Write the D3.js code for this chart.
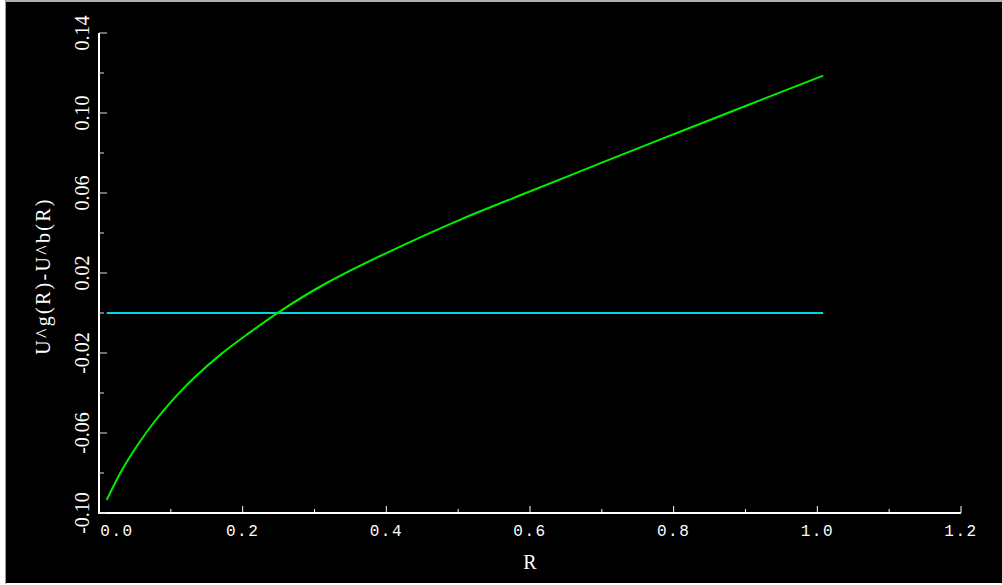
<!DOCTYPE html>
<html><head><meta charset="utf-8">
<script src="https://cdn.jsdelivr.net/npm/d3@7"></script>
<style>html,body{margin:0;padding:0;background:#fff;}svg{display:block;}</style>
</head><body>
<svg id="c" width="1002" height="585"></svg>
<script>
// Data
const rValues = [0.0107,0.0316,0.0547,0.0779,0.1058,0.1336,0.1708,0.2078,0.2473,0.3169,0.4096,0.5024,0.5953,0.7000,0.8000,0.9000,1.0081];
const diffValues = [-0.0935,-0.0788,-0.0655,-0.0540,-0.0422,-0.0320,-0.0203,-0.0103,-0.0003,0.0150,0.0316,0.0466,0.0601,0.0752,0.0894,0.1035,0.1187];
const zeroR = [0.0107, 1.0081];
const zeroValues = [0, 0];
const xMajorTicks = [0, 0.2, 0.4, 0.6, 0.8, 1.0, 1.2];
const xMinorTicks = [0.1, 0.3, 0.5, 0.7, 0.9, 1.1];
const xTickLabels = ["0.0","0.2","0.4","0.6","0.8","1.0","1.2"];
const yMajorTicks = [0.14, 0.10, 0.06, 0.02, -0.02, -0.06, -0.10];
const yMinorTicks = [0.12, 0.08, 0.04, 0.00, -0.04, -0.08];
const yTickLabels = ["0.14","0.10","0.06","0.02","-0.02","-0.06","-0.10"];
const xTitle = "R";
const yTitle = "U^g(R)-U^b(R)";

const svg = d3.select("#c");
svg.append("rect").attr("x",6).attr("y",2).attr("width",996).attr("height",581).attr("fill","#000");
svg.append("line").attr("x1",5.5).attr("x2",5.5).attr("y1",0).attr("y2",584).attr("stroke","#999").attr("stroke-width",1);
svg.append("line").attr("x1",5).attr("x2",1002).attr("y1",1).attr("y2",1).attr("stroke","#999").attr("stroke-width",1.5);

const x = d3.scaleLinear().domain([0, 1.2]).range([99, 961]);
const y = d3.scaleLinear().domain([-0.10, 0.14]).range([513, 33]);

// axes lines
svg.append("line").attr("x1",x(0)).attr("x2",x(1.2)).attr("y1",y(-0.10)).attr("y2",y(-0.10)).attr("stroke","#fff").attr("stroke-width",2);
svg.append("line").attr("x1",x(0)).attr("x2",x(0)).attr("y1",y(-0.10)+1).attr("y2",y(0.14)).attr("stroke","#fff").attr("stroke-width",2);

// x ticks
const xt = svg.append("g");
xt.selectAll("line.maj").data(xMajorTicks).join("line").attr("class","maj")
  .attr("x1",d=>x(d)).attr("x2",d=>x(d)).attr("y1",y(-0.10)).attr("y2",y(-0.10)-7).attr("stroke","#fff").attr("stroke-width",1);
xt.selectAll("line.min").data(xMinorTicks).join("line").attr("class","min")
  .attr("x1",d=>x(d)).attr("x2",d=>x(d)).attr("y1",y(-0.10)).attr("y2",y(-0.10)-4).attr("stroke","#fff").attr("stroke-width",1);
xt.selectAll("text").data(xMajorTicks).join("text")
  .attr("x",(d,i)=>x(d)+(i===0?18:0)).attr("y",536)
  .attr("text-anchor","middle").attr("fill","#fff")
  .attr("font-family","Liberation Mono").attr("font-size",16).attr("letter-spacing",1.5)
  .text((d,i)=>xTickLabels[i]);

// y ticks
const yt = svg.append("g");
yt.selectAll("line.maj").data(yMajorTicks).join("line").attr("class","maj")
  .attr("x1",x(0)).attr("x2",x(0)+8).attr("y1",d=>y(d)).attr("y2",d=>y(d)).attr("stroke","#ddd").attr("stroke-width",1);
yt.selectAll("line.min").data(yMinorTicks).join("line").attr("class","min")
  .attr("x1",x(0)).attr("x2",x(0)+5).attr("y1",d=>y(d)).attr("y2",d=>y(d)).attr("stroke","#ddd").attr("stroke-width",1);
yt.selectAll("text").data(yMajorTicks).join("text")
  .attr("transform",d=>`translate(89,${y(d)}) rotate(-90)`)
  .attr("text-anchor","middle").attr("fill","#fff")
  .attr("font-family","Liberation Serif").attr("font-size",20)
  .text((d,i)=>yTickLabels[i]);

// titles
svg.append("text").attr("x",530).attr("y",569).attr("text-anchor","middle").attr("fill","#fff")
  .attr("font-family","Liberation Serif").attr("font-size",20).text(xTitle);
svg.append("text").attr("transform","translate(50,276) rotate(-90)").attr("text-anchor","middle").attr("fill","#fff")
  .attr("font-family","Liberation Serif").attr("font-size",20).attr("letter-spacing",2.3).text(yTitle);

// lines
const line = d3.line().curve(d3.curveNatural);
svg.append("path").attr("d", d3.line()(zeroR.map((r,i)=>[x(r), y(zeroValues[i])])))
  .attr("fill","none").attr("stroke","#00d8e0").attr("stroke-width",2);
svg.append("path").attr("d", line(rValues.map((r,i)=>[x(r), y(diffValues[i])])))
  .attr("fill","none").attr("stroke","#00ee00").attr("stroke-width",2);
</script>
</body></html>
